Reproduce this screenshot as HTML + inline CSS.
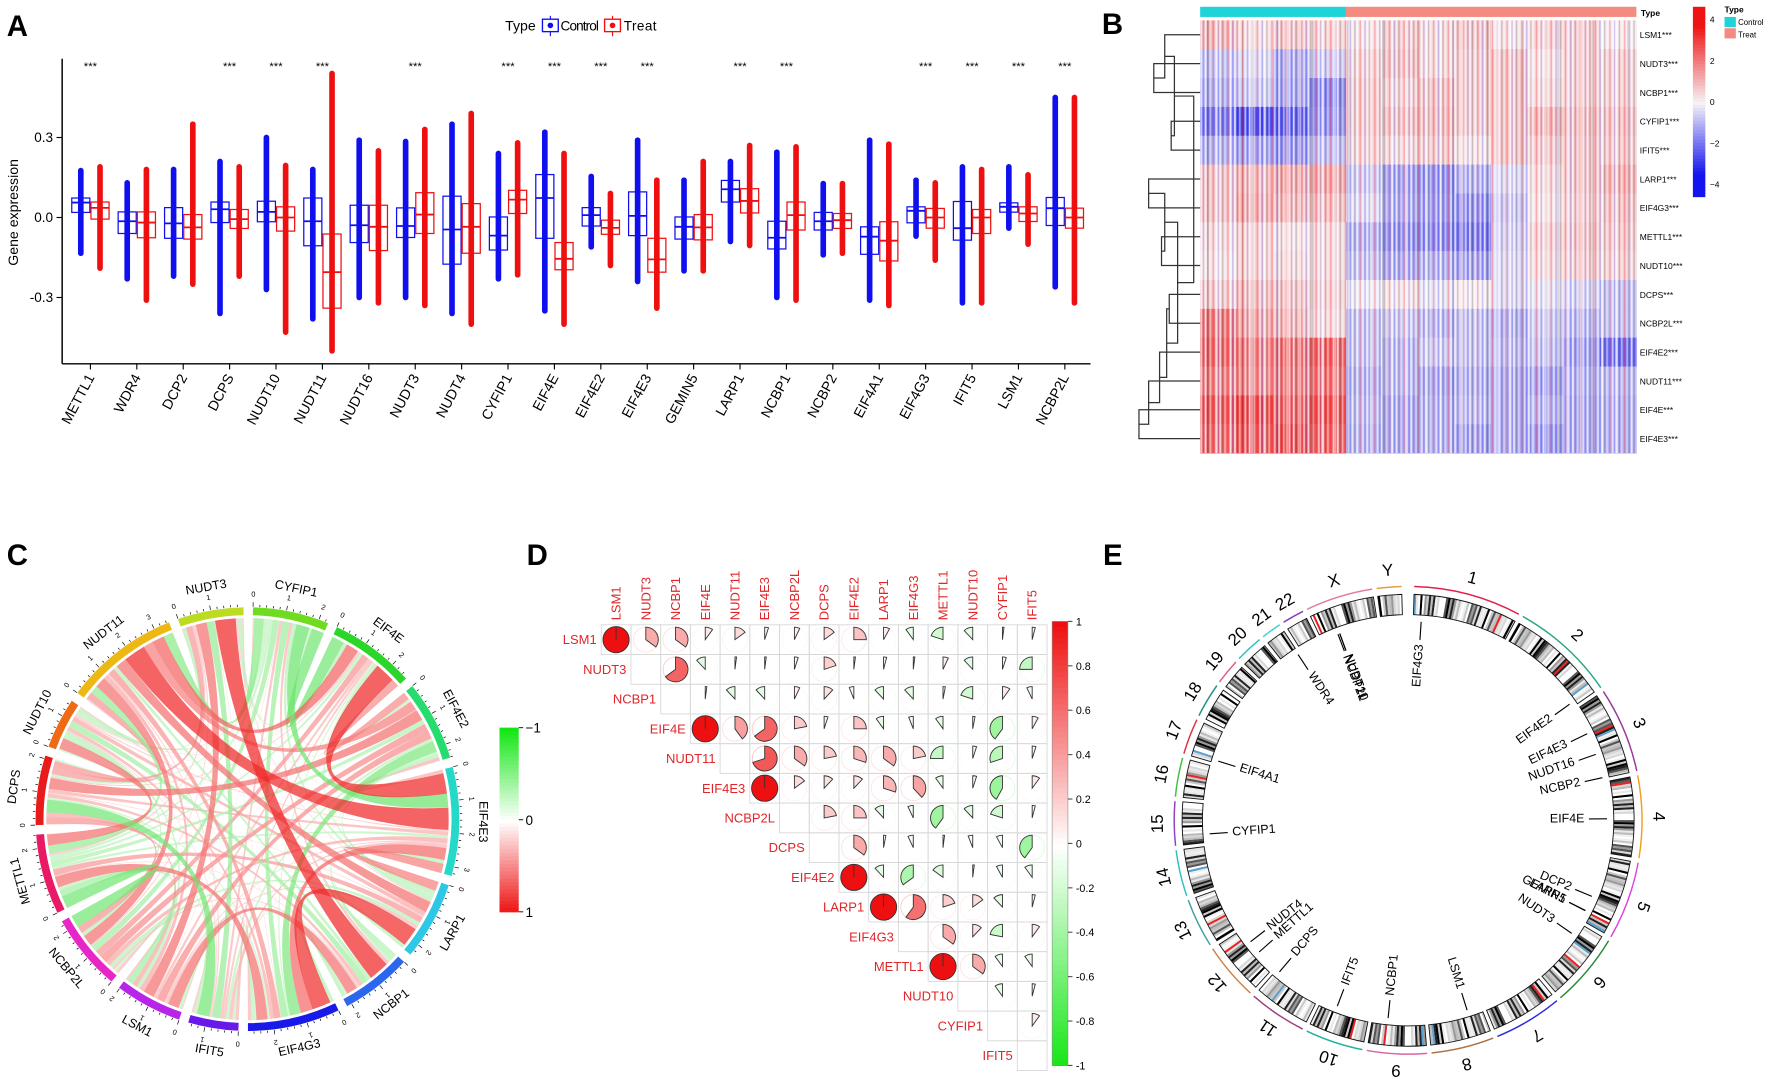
<!DOCTYPE html>
<html><head><meta charset="utf-8"><style>
html,body{margin:0;padding:0;background:#fff;}
svg{display:block;font-family:"Liberation Sans",Arial,sans-serif;}
</style></head><body>
<svg id="fig" xmlns="http://www.w3.org/2000/svg" width="1772" height="1079" viewBox="0 0 1568 955" preserveAspectRatio="none">
<defs>
<pattern id="stripes" width="13" height="10" patternUnits="userSpaceOnUse">
<rect x="0" y="0" width="1.6" height="10" fill="#fff" opacity="0.7"/>
<rect x="2.4" y="0" width="1.1" height="10" fill="#000" opacity="0.18"/>
<rect x="4.3" y="0" width="1.5" height="10" fill="#fff" opacity="0.45"/>
<rect x="7" y="0" width="1.2" height="10" fill="#f00" opacity="0.25"/>
<rect x="9.2" y="0" width="1.6" height="10" fill="#fff" opacity="0.6"/>
<rect x="11.4" y="0" width="1" height="10" fill="#00f" opacity="0.2"/>
</pattern>
<pattern id="stripes2" width="31" height="10" patternUnits="userSpaceOnUse">
<rect x="3" y="0" width="1.5" height="10" fill="#fff" opacity="0.5"/>
<rect x="14" y="0" width="1.3" height="10" fill="#000" opacity="0.15"/>
<rect x="22" y="0" width="1.8" height="10" fill="#fff" opacity="0.5"/>
</pattern>
</defs>
<text x="6" y="32" font-size="26" font-weight="bold">A</text>
<text x="975" y="30" font-size="26" font-weight="bold">B</text>
<text x="6" y="500" font-size="26" font-weight="bold">C</text>
<text x="466" y="500" font-size="26" font-weight="bold">D</text>
<text x="976" y="500" font-size="26" font-weight="bold">E</text>
</svg>
<script>
// ================= DATA: Panel A (boxplot) =================
const genesA = ['METTL1','WDR4','DCP2','DCPS','NUDT10','NUDT11','NUDT16','NUDT3','NUDT4','CYFIP1','EIF4E','EIF4E2','EIF4E3','GEMIN5','LARP1','NCBP1','NCBP2','EIF4A1','EIF4G3','IFIT5','LSM1','NCBP2L'];
const sigA = [1,0,0,1,1,1,0,1,0,1,1,1,1,0,1,1,0,0,1,1,1,1];
const ctrlQ1  = [0.019,-0.06,-0.078,-0.019,-0.016,-0.106,-0.094,-0.075,-0.175,-0.122,-0.078,-0.032,-0.068,-0.081,0.058,-0.118,-0.047,-0.138,-0.02,-0.085,0.02,-0.03];
const ctrlMed = [0.056,-0.014,-0.022,0.031,0.021,-0.014,-0.029,-0.032,-0.045,-0.068,0.073,0.009,0.006,-0.035,0.106,-0.076,-0.014,-0.072,0.025,-0.04,0.04,0.035];
const ctrlQ3  = [0.073,0.021,0.037,0.058,0.061,0.073,0.046,0.036,0.08,0.002,0.161,0.037,0.096,0.002,0.139,-0.014,0.019,-0.035,0.04,0.06,0.055,0.075];
const ctrlMin = [-0.134,-0.23,-0.22,-0.36,-0.27,-0.38,-0.3,-0.3,-0.36,-0.23,-0.35,-0.11,-0.24,-0.2,-0.09,-0.3,-0.14,-0.31,-0.07,-0.32,-0.04,-0.26];
const ctrlMax = [0.176,0.13,0.18,0.21,0.30,0.18,0.29,0.285,0.35,0.24,0.32,0.154,0.29,0.14,0.21,0.245,0.127,0.29,0.14,0.19,0.19,0.45];
const treatQ1  = [-0.006,-0.076,-0.081,-0.041,-0.051,-0.34,-0.124,-0.06,-0.134,0.015,-0.196,-0.063,-0.205,-0.084,0.017,-0.047,-0.041,-0.163,-0.04,-0.06,-0.015,-0.04];
const treatMed = [0.036,-0.019,-0.037,-0.006,0,-0.205,-0.035,0.011,-0.035,0.067,-0.155,-0.039,-0.157,-0.037,0.062,0.009,-0.01,-0.087,0,0,0.015,0];
const treatQ3  = [0.058,0.021,0.011,0.03,0.04,-0.062,0.046,0.093,0.052,0.102,-0.094,-0.01,-0.078,0.011,0.108,0.058,0.015,-0.016,0.034,0.03,0.04,0.035];
const treatMin = [-0.19,-0.31,-0.25,-0.22,-0.43,-0.5,-0.32,-0.33,-0.4,-0.215,-0.4,-0.18,-0.34,-0.2,-0.105,-0.31,-0.134,-0.33,-0.16,-0.32,-0.1,-0.32];
const treatMax = [0.19,0.18,0.35,0.19,0.195,0.54,0.25,0.33,0.39,0.28,0.24,0.09,0.14,0.21,0.27,0.265,0.127,0.275,0.13,0.18,0.16,0.45];
const yTicksA = [-0.3, 0.0, 0.3];
const yTickLabelsA = ['-0.3','0.0','0.3'];

// ================= DATA: Panel B (heatmap) =================
const rowsB = ['LSM1','NUDT3','NCBP1','CYFIP1','IFIT5','LARP1','EIF4G3','METTL1','NUDT10','DCPS','NCBP2L','EIF4E2','NUDT11','EIF4E','EIF4E3'];
const colGroupB = ['Control','Control','Control','Control','Treat','Treat','Treat','Treat','Treat','Treat','Treat','Treat'];
const heatLSM1   = [0.8,0.3,0.6,0.4, 0.2,0.5,0.3,0.6,0.2,0.4,0.5,0.1];
const heatNUDT3  = [-0.6,-0.3,-0.9,-0.5, 0.4,0.6,0.3,0.5,0.6,0.2,0.5,0.4];
const heatNCBP1  = [-0.8,-0.5,-1.0,-1.3, 0.5,0.4,0.6,0.5,0.6,0.3,0.5,0.4];
const heatCYFIP1 = [-1.5,-2.0,-1.8,-1.2, 0.5,0.6,0.7,0.5,0.6,0.8,0.7,0.6];
const heatIFIT5  = [-0.8,-1.0,-1.2,-0.7, 0.4,0.3,0.5,0.2,0.6,0.5,0.6,0.5];
const heatLARP1  = [0.6,0.8,1.0,1.0, -0.5,-1.0,-1.2,-0.8,-0.3,0.3,0.6,0.8];
const heatEIF4G3 = [0.6,0.9,0.8,0.7, -0.3,-0.9,-1.1,-1.2,-0.5,0.2,0.5,0.6];
const heatMETTL1 = [0.3,0.4,0.2,0.3, -0.8,-1.2,-1.3,-1.5,-0.4,0.4,0.6,0.5];
const heatNUDT10 = [0.2,0.4,0.3,0.3, -0.6,-0.9,-0.8,-1.0,-0.3,0.3,0.5,0.4];
const heatDCPS   = [0.5,0.7,0.6,0.4, -0.1,0.2,-0.2,0.1,-0.3,-0.2,-0.4,-0.6];
const heatNCBP2L = [1.6,1.0,0.8,0.3, -0.6,-0.5,-0.7,-0.6,-0.8,-0.5,-0.7,-0.6];
const heatEIF4E2 = [1.8,1.5,1.7,1.9, -0.6,-0.7,-0.5,-0.6,-0.7,-0.6,-1.0,-1.6];
const heatNUDT11 = [1.5,1.4,1.6,1.7, -0.8,-0.7,-0.9,-0.8,-0.9,-1.0,-0.8,-0.7];
const heatEIF4E  = [2.0,2.2,1.9,2.1, -0.7,-0.9,-0.8,-0.7,-0.9,-0.8,-0.9,-0.8];
const heatEIF4E3 = [1.8,2.0,2.1,1.9, -0.8,-0.9,-0.8,-1.0,-0.9,-1.1,-0.9,-0.8];
const heatRows = [heatLSM1,heatNUDT3,heatNCBP1,heatCYFIP1,heatIFIT5,heatLARP1,heatEIF4G3,heatMETTL1,heatNUDT10,heatDCPS,heatNCBP2L,heatEIF4E2,heatNUDT11,heatEIF4E,heatEIF4E3];
const dendroMerges = [[1,2,0.72],[0,15,0.55],[3,4,0.45],[16,17,0.4],[5,6,0.8],[7,8,0.6],[19,20,0.55],[13,14,0.95],[12,22,0.8],[11,23,0.63],[9,10,0.48],[25,24,0.52],[21,26,0.35],[18,27,0.1]];
const heatTicks = [4,2,0,-2,-4];

// ================= DATA: Panel D (correlation) =================
const genesD = ['LSM1','NUDT3','NCBP1','EIF4E','NUDT11','EIF4E3','NCBP2L','DCPS','EIF4E2','LARP1','EIF4G3','METTL1','NUDT10','CYFIP1','IFIT5'];
const diagFilled = [1,0,0,1,0,1,0,0,1,1,0,1,0,0,0];
const corrLSM1   = [0.35,0.35,0.1,0.15,0.05,0.07,0.15,0.25,0.08,-0.1,-0.2,-0.12,0.02,0.04];
const corrNUDT3  = [0.65,-0.12,0.02,0.02,0.05,0.2,0.02,0.04,0.02,0.07,-0.12,0.05,-0.25];
const corrNCBP1  = [0.02,-0.12,-0.12,0.07,0.12,-0.06,-0.12,-0.12,0.03,-0.2,0.1,-0.07];
const corrEIF4E  = [0.4,0.65,0.22,0.05,0.25,-0.1,-0.06,-0.1,0.03,-0.4,0.08];
const corrNUDT11 = [0.7,0.35,0.22,0.3,0.35,0.22,-0.25,0.05,-0.3,0.05];
const corrEIF4E3 = [0.15,0.12,0.12,0.3,0.38,-0.1,0.05,-0.42,0.1];
const corrNCBP2L = [0.22,0.25,-0.12,-0.07,-0.4,-0.12,-0.2,0.04];
const corrDCPS   = [0.35,0.03,-0.07,0.02,-0.06,-0.08,-0.4];
const corrEIF4E2 = [-0.12,-0.35,-0.15,0.02,-0.08,-0.1];
const corrLARP1  = [0.6,0.2,0.15,-0.12,0.04];
const corrEIF4G3 = [0.35,0.12,-0.22,0.1];
const corrMETTL1 = [0.35,-0.1,-0.1];
const corrNUDT10 = [-0.1,0.04];
const corrCYFIP1 = [0.1];
const corrRows = [corrLSM1,corrNUDT3,corrNCBP1,corrEIF4E,corrNUDT11,corrEIF4E3,corrNCBP2L,corrDCPS,corrEIF4E2,corrLARP1,corrEIF4G3,corrMETTL1,corrNUDT10,corrCYFIP1,[]];
const corrTicks = [1,0.8,0.6,0.4,0.2,0,-0.2,-0.4,-0.6,-0.8,-1];

// ================= DATA: Panel C (chord) =================
const chordOrder = ['CYFIP1','EIF4E','EIF4E2','EIF4E3','LARP1','NCBP1','EIF4G3','IFIT5','LSM1','NCBP2L','METTL1','DCPS','NUDT10','NUDT11','NUDT3'];
const chordColors = ['#6fdc1f','#2ad62a','#26dc6e','#26d8c8','#2ec8e6','#2a66ee','#1a1ae8','#6a1ae8','#b824e8','#e826c8','#e81a66','#e81a1a','#ee6a14','#eeb814','#bcdc22'];

// ================= DATA: Panel E (circos) =================
const chromNames = ['1','2','3','4','5','6','7','8','9','10','11','12','13','14','15','16','17','18','19','20','21','22','X','Y'];
const chromLen = [249,243,198,190,181,171,159,145,138,134,135,133,114,107,102,90,83,80,59,64,47,51,156,57];
const chromColors = ['#e0204a','#2aa68a','#9a3a9a','#f0a020','#e040e0','#2a8a3a','#2a2ae0','#b07040','#e060a0','#20b0a0','#a04080','#d08040','#40a0a0','#30c0c0','#9040c0','#40c040','#e03040','#209080','#e06080','#30c0c0','#40d0d0','#8040c0','#e080a0','#e0a040'];
const geneNamesE = ['EIF4G3','EIF4E2','EIF4E3','NUDT16','NCBP2','EIF4E','DCP2','LARP1','GEMIN5','NUDT3','LSM1','NCBP1','IFIT5','DCPS','METTL1','NUDT4','CYFIP1','EIF4A1','WDR4','NUDT10','NUDT11','NCBP2L'];
const geneChrE = [0,1,2,2,2,3,4,4,4,5,7,8,9,10,11,11,14,16,20,22,22,22];
const geneMbE = [21,232,71,131,196,99,112,154,154,34,38,97,89,126,57,93,22,7,44,51,51,46];

// ================= helpers =================
const NS='http://www.w3.org/2000/svg';
const svg=document.getElementById('fig');
function mk(tag,attrs,parent,name){
  const e=document.createElementNS(NS,tag);
  for(const k in attrs) e.setAttribute(k,attrs[k]);
  
  
  (parent||svg).appendChild(e);
  return e;
}
function txt(x,y,s,attrs,parent,name){const t=mk('text',Object.assign({x:x,y:y},attrs),parent,name);t.textContent=s;return t;}
function mix(c1,c2,t){t=Math.max(0,Math.min(1,t));return 'rgb('+c1.map((v,i)=>Math.round(v+(c2[i]-v)*t)).join(',')+')';}

// ================= Panel A =================
(function(){
  const g=mk('g',{},svg,'panel-a-boxplot');
  const yA=v=>192.5-v*236;
  const xA=i=>80+41.06*i;
  mk('line',{x1:55,y1:52,x2:55,y2:322,stroke:'#000','stroke-width':1.3},g,'y-axis');
  mk('line',{x1:55,y1:322,x2:965,y2:322,stroke:'#000','stroke-width':1.3},g,'x-axis');
  yTicksA.forEach((v,i)=>{
    mk('line',{x1:50,x2:55,y1:yA(v),y2:yA(v),stroke:'#000'},g,'y-tick');
    txt(47,yA(v)+4,yTickLabelsA[i],{'font-size':12,'text-anchor':'end'},g,'y-tick-label');
  });
  txt(0,0,'Gene expression',{'font-size':12.5,'text-anchor':'middle',transform:'translate(16,188) rotate(-90)'},g,'y-axis-title');
  function box(i,off,q1,md,q3,mn,mx,col,name){
    const cx=xA(i)+off;
    mk('line',{x1:cx,x2:cx,y1:yA(mx),y2:yA(mn),stroke:col,'stroke-width':5,'stroke-linecap':'round'},g,name+'-points');
    mk('rect',{x:cx-8,y:yA(q3),width:16,height:yA(q1)-yA(q3),fill:'none',stroke:col,'stroke-width':1.1},g,name+'-box');
    mk('line',{x1:cx-8,x2:cx+8,y1:yA(md),y2:yA(md),stroke:col,'stroke-width':1.6},g,name+'-median');
  }
  genesA.forEach((gn,i)=>{
    box(i,-8.5,ctrlQ1[i],ctrlMed[i],ctrlQ3[i],ctrlMin[i],ctrlMax[i],'#1010ee','control-'+gn.toLowerCase());
    box(i,8.5,treatQ1[i],treatMed[i],treatQ3[i],treatMin[i],treatMax[i],'#ee1010','treat-'+gn.toLowerCase());
    mk('line',{x1:xA(i),x2:xA(i),y1:322,y2:327,stroke:'#000'},g,'x-tick');
    txt(0,0,gn,{'font-size':12.5,'text-anchor':'end',transform:'translate('+(xA(i)+4)+',334) rotate(-62)'},g,'x-tick-label');
    if(sigA[i]) txt(xA(i),62,'***',{'font-size':10,'text-anchor':'middle'},g,'significance-stars');
  });
  txt(447,27,'Type',{'font-size':12.5},g,'legend-title');
  [['Control','#1010ee',480,496],['Treat','#ee1010',535,552]].forEach(([n,c,x,tx])=>{
    mk('line',{x1:x+7,x2:x+7,y1:14,y2:32,stroke:c},g,'legend-icon');
    mk('rect',{x:x,y:17,width:14,height:11,fill:'#fff',stroke:c,'stroke-width':1.2},g,'legend-icon');
    mk('circle',{cx:x+7,cy:22.5,r:2.5,fill:c},g,'legend-icon');
    txt(tx,27,n,{'font-size':12,'textLength':n==='Control'?34:29},g,'legend-entry-'+n.toLowerCase());
  });
})();

// ================= Panel B =================
(function(){
  const g=mk('g',{},svg,'panel-b-heatmap');
  const x0=1062,x1=1448,ctrlEnd=1191,yTop=18,yBot=401;
  const rh=(yBot-yTop)/rowsB.length;
  const nC=colGroupB.filter(c=>c==='Control').length, nT=colGroupB.length-nC;
  const colX=j=> j<nC ? x0+j*(ctrlEnd-x0)/nC : ctrlEnd+(j-nC)*(x1-ctrlEnd)/nT;
  const colW=j=> j<nC ? (ctrlEnd-x0)/nC : (x1-ctrlEnd)/nT;
  const heatColor=v=> v>=0 ? mix([246,242,246],[238,20,20],v/2.8) : mix([246,242,246],[20,20,238],-v/2.6);
  mk('rect',{x:x0,y:6,width:ctrlEnd-x0,height:9,fill:'#1fd3d8'},g,'annotation-control');
  mk('rect',{x:ctrlEnd,y:6,width:x1-ctrlEnd,height:9,fill:'#f48b80'},g,'annotation-treat');
  txt(1452,14,'Type',{'font-size':7.5,'font-weight':'bold'},g,'annotation-label');
  rowsB.forEach((r,i)=>{
    heatRows[i].forEach((v,j)=>{
      mk('rect',{x:colX(j),y:yTop+i*rh,width:colW(j)+0.4,height:rh+0.4,fill:heatColor(v)},g,'heat-cell');
    });
    txt(1451,yTop+i*rh+rh/2+3,r+'***',{'font-size':7.5},g,'row-label');
  });
  mk('rect',{x:x0,y:yTop,width:x1-x0,height:yBot-yTop,fill:'url(#stripes)'},g,'heat-texture');
  mk('rect',{x:x0,y:yTop,width:x1-x0,height:yBot-yTop,fill:'url(#stripes2)'},g,'heat-texture');
  const nodeY={}, nodeX={};
  rowsB.forEach((r,i)=>{nodeY[i]=yTop+i*rh+rh/2;nodeX[i]=x0;});
  const dx=h=>x0-h*57;
  dendroMerges.forEach((m,k)=>{
    const id=rowsB.length+k, a=m[0], b=m[1], hx=dx(m[2]);
    mk('path',{d:`M${nodeX[a]},${nodeY[a]}H${hx}V${nodeY[b]}H${nodeX[b]}`,fill:'none',stroke:'#333','stroke-width':1.1},g,'dendrogram-branch');
    nodeY[id]=(nodeY[a]+nodeY[b])/2; nodeX[id]=hx;
  });
  const cb=mk('g',{},g,'heatmap-colorbar');
  const cbTop=6,cbBot=174;
  for(let k=0;k<60;k++){const v=4.6-9.2*k/60;
    mk('rect',{x:1498,y:cbTop+k*(cbBot-cbTop)/60,width:11,height:(cbBot-cbTop)/60+0.5,fill:heatColor(v*0.75)},cb,'colorbar-step');}
  heatTicks.forEach(v=>txt(1513,cbTop+(4.6-v)/9.2*(cbBot-cbTop)+3,v<0?'−'+(-v):String(v),{'font-size':7.5},cb,'colorbar-tick'));
  txt(1526,11,'Type',{'font-size':7.5,'font-weight':'bold'},g,'type-legend-title');
  mk('rect',{x:1526,y:15,width:10,height:9,fill:'#1fd3d8'},g,'type-legend-control');
  mk('rect',{x:1526,y:25,width:10,height:9,fill:'#f48b80'},g,'type-legend-treat');
  txt(1538,22,'Control',{'font-size':7},g,'type-legend-label');
  txt(1538,33,'Treat',{'font-size':7},g,'type-legend-label');
})();

function corr(i,j){ if(i===j) return 1; const a=Math.min(i,j), b=Math.max(i,j); return corrRows[a][b-a-1]; }

// ================= Panel D =================
(function(){
  const g=mk('g',{},svg,'panel-d-corrplot');
  const gx=532, gy=553, cs=26.3, n=genesD.length;
  const cpos=v=> v>=0 ? mix([255,255,255],[238,16,16],v) : mix([255,255,255],[20,230,20],-v);
  for(let i=0;i<n;i++){
    txt(gx+i*cs-4,gy+i*cs+cs/2+4,genesD[i],{'font-size':11.5,'text-anchor':'end',fill:'#e0262a'},g,'row-label');
    txt(0,0,genesD[i],{'font-size':11.5,fill:'#e0262a',transform:`translate(${gx+i*cs+cs/2+4},${gy-4}) rotate(-90)`},g,'column-label');
    for(let j=i;j<n;j++){
      const x=gx+j*cs, y=gy+i*cs, cx=x+cs/2, cy=y+cs/2, r=corr(i,j), R=cs*0.42;
      mk('rect',{x:x,y:y,width:cs,height:cs,fill:'none',stroke:'#d8d8d8','stroke-width':0.8},g,'corr-cell');
      if(i===j){
        if(diagFilled[i]){ mk('circle',{cx:cx,cy:cy,r:R*1.05,fill:cpos(1),stroke:'#333','stroke-width':0.8},g,'corr-pie');
          mk('line',{x1:cx,x2:cx,y1:cy-R,y2:cy,stroke:'#333','stroke-width':0.8},g,'corr-pie-edge'); }
        continue;
      }
      mk('circle',{cx:cx,cy:cy,r:R,fill:'none',stroke:cpos(r*0.35),'stroke-width':0.8},g,'corr-circle');
      const f=Math.abs(r);
      const s=r>=0?1:-1, a=s*f*2*Math.PI;
      const ex=cx+R*Math.sin(a), ey=cy-R*Math.cos(a);
      mk('path',{d:`M${cx},${cy}L${cx},${cy-R}A${R},${R} 0 ${f>0.5?1:0} ${s>0?1:0} ${ex},${ey}Z`,fill:cpos(r),stroke:'#333','stroke-width':0.8},g,'corr-pie');
    }
  }
  const cb=mk('g',{},g,'corr-colorbar');
  const t=550,b=943;
  for(let k=0;k<80;k++){const v=1-2*k/80;
    mk('rect',{x:931,y:t+k*(b-t)/80,width:14,height:(b-t)/80+0.5,fill:cpos(v)},cb,'colorbar-step');}
  mk('rect',{x:931,y:t,width:14,height:b-t,fill:'none',stroke:'#888','stroke-width':0.5},cb,'colorbar-frame');
  corrTicks.forEach(v=>{const y=t+(1-v)/2*(b-t);
    mk('line',{x1:945,x2:949,y1:y,y2:y,stroke:'#555'},cb,'colorbar-tick');
    txt(952,y+3.5,String(v),{'font-size':9.5},cb,'colorbar-tick-label');});
})();

// ================= Panel C =================
(function(){
  const g=mk('g',{},svg,'panel-c-chord');
  const cx=219, cy=725, R=178;
  const n=chordOrder.length;
  const idxD=chordOrder.map(nm=>genesD.indexOf(nm));
  const sums=idxD.map(i=>genesD.reduce((s,_,j)=>j===i?s:s+Math.abs(corr(i,j)),0));
  const total=sums.reduce((a,b)=>a+b,0);
  const gap=2.6, unit=(360-gap*n)/total;
  const P=(a,r)=>[cx+r*Math.sin(a*Math.PI/180), cy-r*Math.cos(a*Math.PI/180)];
  let a=1.5; const start=[];
  for(let k=0;k<n;k++){start.push(a); a+=sums[k]*unit+gap;}
  const slot={};
  for(let k=0;k<n;k++){
    const partners=[]; for(let m=0;m<n;m++) if(m!==k) partners.push(m);
    partners.sort((p,q)=>((q-k+n)%n)-((p-k+n)%n));
    let s=start[k];
    partners.forEach(m=>{const w=Math.abs(corr(idxD[k],idxD[m]))*unit; slot[k+'_'+m]=[s,s+w]; s+=w;});
  }
  const links=[];
  for(let k=0;k<n;k++) for(let m=k+1;m<n;m++) links.push([k,m,corr(idxD[k],idxD[m])]);
  links.sort((p,q)=>Math.abs(p[2])-Math.abs(q[2]));
  links.forEach(([k,m,r])=>{
    const [a1,a2]=slot[k+'_'+m], [b1,b2]=slot[m+'_'+k];
    const A1=P(a1,R),A2=P(a2,R),B1=P(b1,R),B2=P(b2,R);
    const t=Math.min(1,0.22+Math.abs(r)*1.25);
    const col= r>=0 ? mix([255,255,255],[240,40,40],t) : mix([255,255,255],[60,220,60],t);
    mk('path',{d:`M${A1}A${R},${R} 0 0 1 ${A2}Q${cx},${cy} ${B1}A${R},${R} 0 0 1 ${B2}Q${cx},${cy} ${A1}Z`,fill:col,opacity:0.72},g,'chord-'+chordOrder[k].toLowerCase()+'-'+chordOrder[m].toLowerCase());
  });
  for(let k=0;k<n;k++){
    const s=start[k], e=s+sums[k]*unit;
    const S=P(s,184),E=P(e,184);
    mk('path',{d:`M${S}A184,184 0 0 1 ${E}`,fill:'none',stroke:chordColors[k],'stroke-width':7},g,'sector-'+chordOrder[k].toLowerCase());
    for(let u=0;u<=sums[k]+1e-6;u+=0.2){
      const aa=s+u*unit, p1=P(aa,188), p2=P(aa,Math.abs(u-Math.round(u))<1e-6?192:190);
      mk('line',{x1:p1[0],y1:p1[1],x2:p2[0],y2:p2[1],stroke:'#000','stroke-width':0.6},g,'sector-tick');
      if(Math.abs(u-Math.round(u))<1e-6){const q=P(aa,197);
        txt(0,0,String(Math.round(u)),{'font-size':6.5,'text-anchor':'middle',transform:`translate(${q[0]},${q[1]}) rotate(${aa})`},g,'sector-tick-label');}
    }
    const mid=(s+e)/2, q=P(mid,208);
    const rot=(mid>110&&mid<250)?mid-180:mid;
    txt(0,0,chordOrder[k],{'font-size':11,'text-anchor':'middle','dominant-baseline':'middle',transform:`translate(${q[0]},${q[1]}) rotate(${rot})`},g,'sector-label');
  }
  const cb=mk('g',{},g,'chord-colorbar');
  const t=644,b=807;
  for(let k=0;k<50;k++){const v=-1+2*k/50; const tt=Math.abs(v);
    mk('rect',{x:442,y:t+k*(b-t)/50,width:17,height:(b-t)/50+0.5,fill: v<0?mix([255,255,255],[20,230,20],tt):mix([255,255,255],[238,16,16],tt)},cb,'colorbar-step');}
  [['−1',t],['0',(t+b)/2],['1',b]].forEach(([s,y])=>{mk('line',{x1:459,x2:463,y1:y,y2:y,stroke:'#333'},cb,'colorbar-tick');
    txt(465,y+4.5,s,{'font-size':12},cb,'colorbar-tick-label');});
})();

// ================= Panel E =================
(function(){
  const g=mk('g',{},svg,'panel-e-circos');
  const cx=1246, cy=726, Ri=182, Ro=200;
  const P=(a,r)=>[cx+r*Math.sin(a*Math.PI/180), cy-r*Math.cos(a*Math.PI/180)];
  const total=chromLen.reduce((a,b)=>a+b,0);
  const gap=1.1, unit=(360-gap*chromLen.length-2)/total;
  let a=1.5; const start=[];
  chromLen.forEach(L=>{start.push(a); a+=L*unit+gap;});
  const shades=['#ffffff','#d8d8d8','#9a9a9a','#000000','#f0f0f0','#bcbcbc','#555555','#ffffff','#e8e8e8','#222222','#c8c8c8'];
  chromLen.forEach((L,c)=>{
    const s=start[c], e=s+L*unit;
    const cg=mk('g',{},g,'chromosome-'+chromNames[c]);
    const A=P(s,Ro),B=P(e,Ro),C=P(e,Ri),D=P(s,Ri);
    mk('path',{d:`M${A}A${Ro},${Ro} 0 0 1 ${B}L${C}A${Ri},${Ri} 0 0 0 ${D}Z`,fill:'#e4e4e4'},cg,'ideogram');
    let k=0;
    for(let aa=s+0.3; aa<e-0.2; aa+=0.55, k++){
      let col=shades[(k*7+c*3+((k*k)%5))%shades.length];
      if((k*13+c*5)%41===0) col='#ee2020';
      if((k*11+c*7)%67===0) col='#5aa0d0';
      const p1=P(aa,Ri),p2=P(aa,Ro);
      mk('line',{x1:p1[0],y1:p1[1],x2:p2[0],y2:p2[1],stroke:col,'stroke-width':1.9},cg,'band');
    }
    mk('path',{d:`M${A}A${Ro},${Ro} 0 0 1 ${B}L${C}A${Ri},${Ri} 0 0 0 ${D}Z`,fill:'none',stroke:'#111','stroke-width':0.8},cg,'ideogram-outline');
    const O1=P(s,207),O2=P(e,207);
    mk('path',{d:`M${O1}A207,207 0 0 1 ${O2}`,fill:'none',stroke:chromColors[c],'stroke-width':1.3},cg,'chromosome-arc');
    const m=(s+e)/2, q=P(m,221);
    txt(0,0,chromNames[c],{'font-size':15,'text-anchor':'middle','dominant-baseline':'middle',transform:`translate(${q[0]},${q[1]}) rotate(${m})`},cg,'chromosome-label');
  });
  geneNamesE.forEach((gn,i)=>{
    const aa=start[geneChrE[i]]+geneMbE[i]*unit;
    const p1=P(aa,176),p2=P(aa,160),q=P(aa,156);
    mk('line',{x1:p1[0],y1:p1[1],x2:p2[0],y2:p2[1],stroke:'#000','stroke-width':1},g,'gene-tick');
    const th=aa-90; const right=(aa>=0&&aa<=180)||aa>=360;
    txt(0,0,gn,{'font-size':11,'text-anchor':right?'end':'start','dominant-baseline':'middle',transform:`translate(${q[0]},${q[1]}) rotate(${right?th:th+180})`},g,'gene-label-'+gn.toLowerCase());
  });
})();
</script>
</body></html>
